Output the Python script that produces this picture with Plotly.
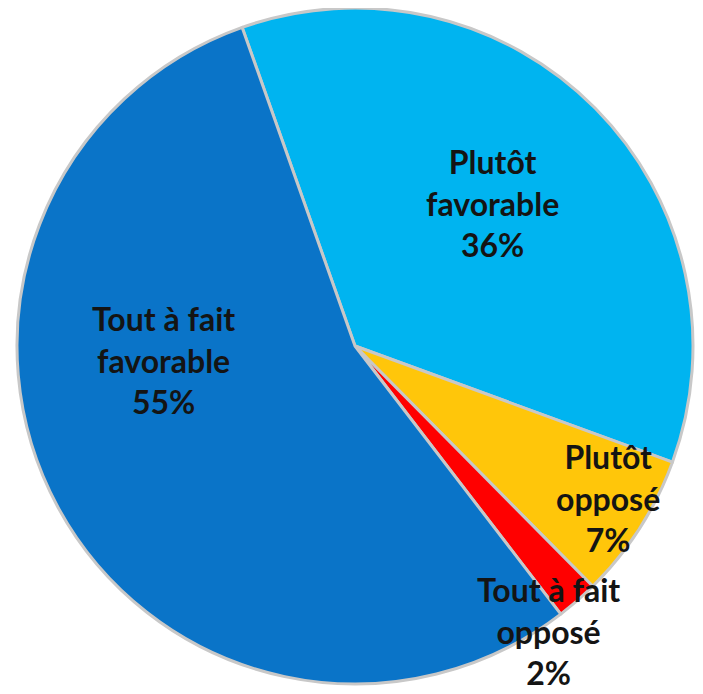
import plotly.graph_objects as go

labels = ["Plutôt favorable", "Plutôt opposé", "Tout à fait opposé", "Tout à fait favorable"]
values = [36, 7, 2, 55]
colors = ["#00B4F0", "#FFC60A", "#FF0000", "#0A74C8"]
label_lines = [["Plutôt", "favorable"], ["Plutôt", "opposé"], ["Tout à fait", "opposé"], ["Tout à fait", "favorable"]]
# label block centres in pixels (x, y from top)
label_pos = [(484, 195), (600, 490), (540, 623), (155, 352)]

W, H = 703, 694

fig = go.Figure(go.Pie(
    labels=labels,
    values=values,
    sort=False,
    direction="clockwise",
    rotation=-19.5,
    marker=dict(colors=colors, line=dict(color="#c8c8c8", width=3)),
    textinfo="none",
    hoverinfo="label+percent",
    showlegend=False,
    domain=dict(x=[9 / W, 685 / W], y=[1 - 676 / H, 1]),
))

for lines, v, (px, py) in zip(label_lines, values, label_pos):
    fig.add_annotation(
        x=px / W, y=1 - py / H, xref="paper", yref="paper",
        text="<br>".join(lines + [f"{v}%"]),
        showarrow=False, xanchor="center", yanchor="middle",
        font=dict(family="Lato", size=32, color="#141414", weight="bold"),
    )

fig.update_layout(
    width=W, height=H,
    margin=dict(l=0, r=0, t=0, b=0),
    paper_bgcolor="white", plot_bgcolor="white",
)

fig.write_html("out.html")
